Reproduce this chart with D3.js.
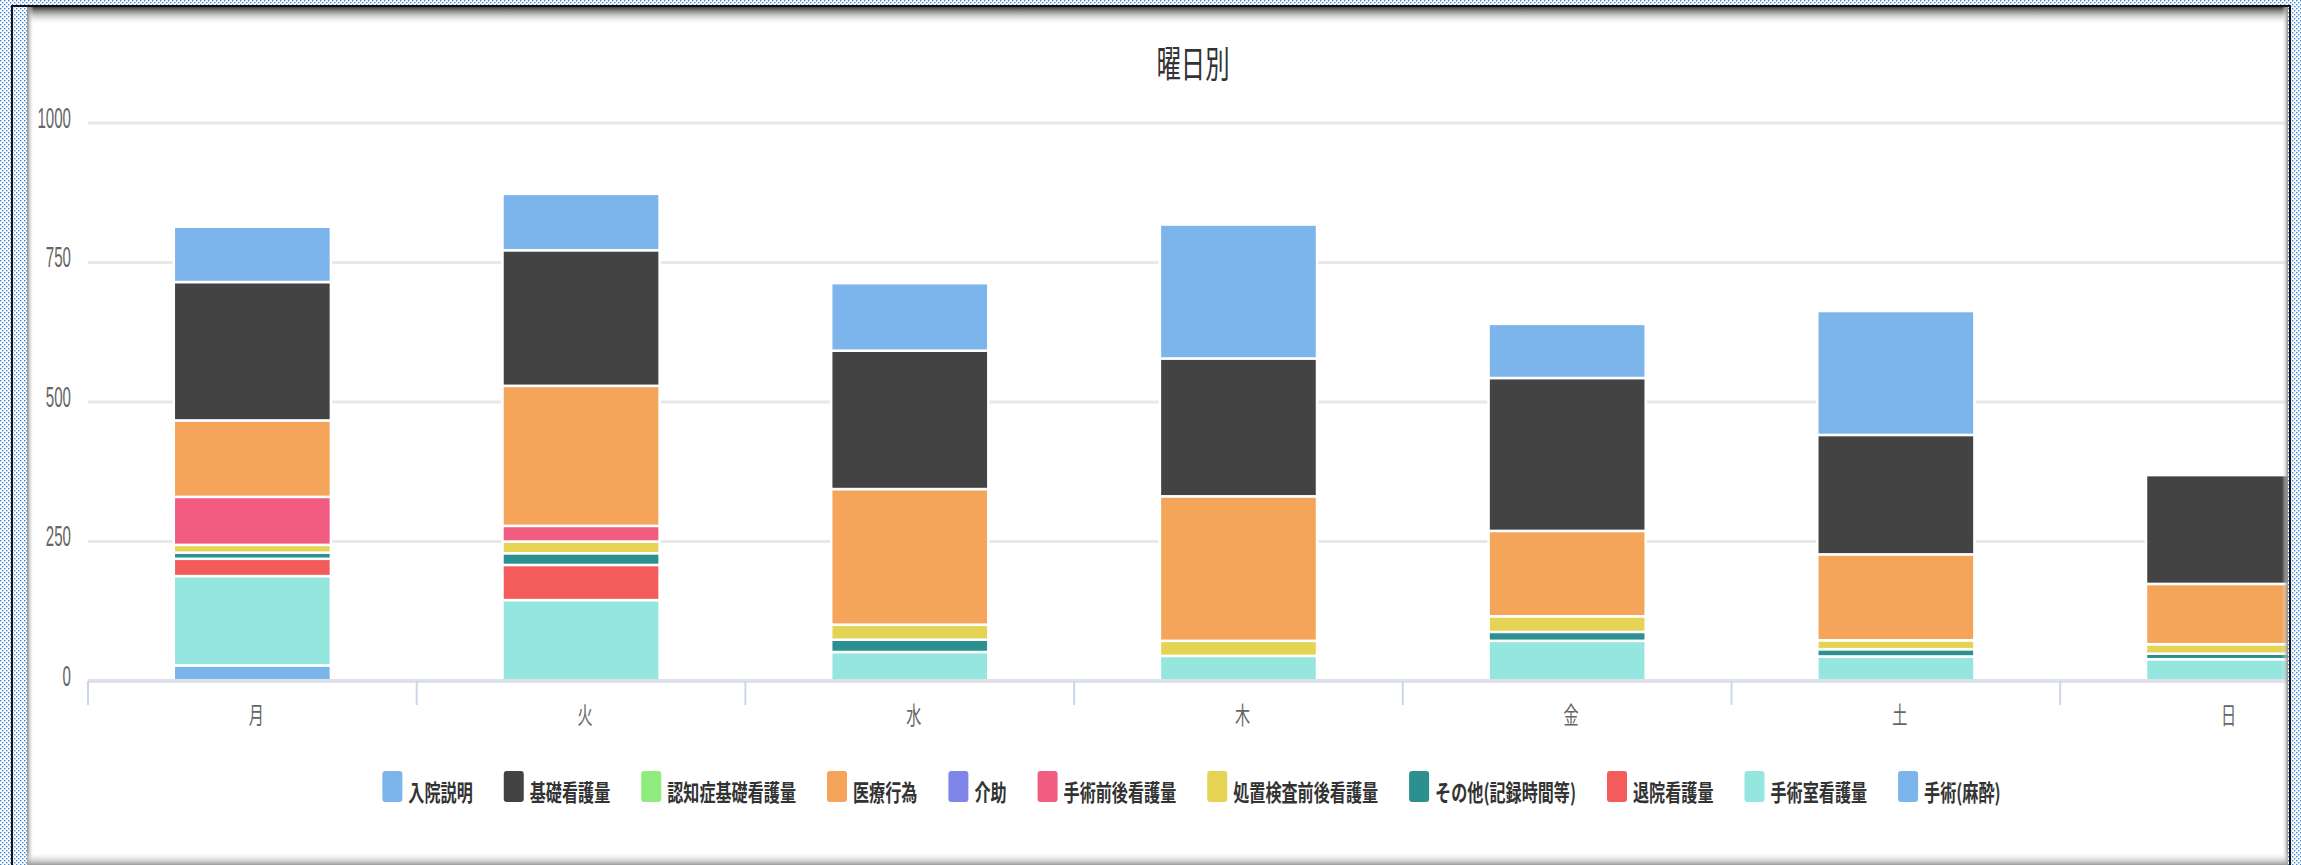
<!DOCTYPE html>
<html>
<head>
<meta charset="utf-8">
<script src="https://cdn.jsdelivr.net/npm/d3@7"></script>
<style>
html, body { margin: 0; padding: 0; background: #fff; overflow: hidden; }
svg { display: block; }
</style>
</head>
<body>
<svg id="chart" width="2301" height="865"></svg>
<script>
// ---- data -------------------------------------------------------------
const days = ["月", "火", "水", "木", "金", "土", "日"];
const seriesNames = [
  "入院説明", "基礎看護量", "認知症基礎看護量", "医療行為", "介助",
  "手術前後看護量", "処置検査前後看護量", "その他(記録時間等)",
  "退院看護量", "手術室看護量", "手術(麻酔)"
];
const seriesColors = [
  "#7cb5ec", "#434343", "#90ed7d", "#f5a55a", "#8085e9",
  "#f15c80", "#e4d354", "#2b908f", "#f45b5b", "#96e6e0", "#7cb5ec"
];
const nyuin          = [99, 101, 121, 240, 97, 222, 0];
const kiso           = [248, 243, 248, 247, 274, 214, 195];
const ninchi         = [0, 0, 0, 0, 0, 0, 0];
const iryo           = [137, 251, 243, 259, 153, 154, 108];
const kaijo          = [0, 0, 0, 0, 0, 0, 0];
const zengo          = [86, 28, 0, 0, 0, 0, 0];
const shochi         = [14, 21, 27, 27, 28, 16, 17];
const sonota         = [11, 21, 22, 0, 16, 13, 10];
const taiin          = [31, 63, 0, 0, 0, 0, 0];
const shujutsushitsu = [160, 145, 52, 45, 72, 44, 39];
const masui          = [28, 0, 0, 0, 0, 0, 0];
const yTicks = [0, 250, 500, 750, 1000];
const chartTitle = "曜日別";

const seriesValues = [nyuin, kiso, ninchi, iryo, kaijo, zengo, shochi, sonota, taiin, shujutsushitsu, masui];

// ---- layout -----------------------------------------------------------
const W = 2301, H = 865;
const panel = { x0: 27, x1: 2288, y0: 7, y1: 865 };
const plot = { left: 88, right: 88 + 7 * 328.7, top: 123, bottom: 681 };
const fontCJK = "'Noto Sans CJK JP', 'Noto Sans', sans-serif";
const fontNum = "'Liberation Sans', Arial, sans-serif";

const svg = d3.select("#chart");
const defs = svg.append("defs");

// dotted desktop pattern around the window
const pat = defs.append("pattern").attr("id", "dots")
  .attr("width", 4).attr("height", 4).attr("patternUnits", "userSpaceOnUse");
pat.append("rect").attr("width", 4).attr("height", 4).attr("fill", "#ffffff");
pat.append("rect").attr("x", 0).attr("y", 0).attr("width", 1.4).attr("height", 1.4).attr("fill", "#3f88d8");
pat.append("rect").attr("x", 2).attr("y", 2).attr("width", 1.4).attr("height", 1.4).attr("fill", "#3f88d8");

function linGrad(id, x1, y1, x2, y2, c1, o1, c2, o2) {
  const g = defs.append("linearGradient").attr("id", id)
    .attr("x1", x1).attr("y1", y1).attr("x2", x2).attr("y2", y2);
  g.append("stop").attr("offset", "0").attr("stop-color", c1).attr("stop-opacity", o1);
  g.append("stop").attr("offset", "1").attr("stop-color", c2).attr("stop-opacity", o2);
}
linGrad("shTop", 0, 0, 0, 1, "#3c3c3c", 1, "#ffffff", 0);
linGrad("shLeft", 0, 0, 1, 0, "#8a8a8a", 1, "#ffffff", 0);
linGrad("shRight", 1, 0, 0, 0, "#8a8a8a", 1, "#ffffff", 0);
linGrad("shBottom", 0, 1, 0, 0, "#9a9a9a", 1, "#ffffff", 0);

defs.append("clipPath").attr("id", "panelClip")
  .append("rect").attr("x", panel.x0).attr("y", panel.y0)
  .attr("width", panel.x1 - panel.x0).attr("height", panel.y1 - panel.y0);

svg.append("rect").attr("width", W).attr("height", H).attr("fill", "url(#dots)");
svg.append("rect").attr("x", 11).attr("y", 5).attr("width", 2).attr("height", H).attr("fill", "#111");
svg.append("rect").attr("x", 11).attr("y", 5).attr("width", 2280).attr("height", 2).attr("fill", "#111");
svg.append("rect").attr("x", 2289).attr("y", 5).attr("width", 2).attr("height", H).attr("fill", "#111");
svg.append("rect").attr("x", panel.x0).attr("y", panel.y0)
  .attr("width", panel.x1 - panel.x0).attr("height", panel.y1 - panel.y0).attr("fill", "#ffffff");

const g = svg.append("g").attr("clip-path", "url(#panelClip)");

// text squeezed horizontally
function squeezed(parent, str, x, y, size, k, opts = {}) {
  return parent.append("text")
    .attr("transform", `translate(${x},${y}) scale(${k},1)`)
    .attr("text-anchor", opts.anchor || "start")
    .attr("font-family", opts.family || fontCJK)
    .attr("font-size", size)
    .attr("font-weight", opts.weight || "normal")
    .attr("fill", opts.fill || "#333")
    .text(str);
}

// ---- scales -----------------------------------------------------------
const p = 0.522;
const x = d3.scaleBand().domain(days).range([plot.left, plot.right])
  .paddingInner(p).paddingOuter(p / 2);
const y = d3.scaleLinear().domain([0, 1000]).range([plot.bottom, plot.top]);

// gridlines
g.append("g").selectAll("line").data(yTicks).join("line")
  .attr("x1", plot.left).attr("x2", plot.right)
  .attr("y1", d => y(d)).attr("y2", d => y(d))
  .attr("stroke", "#e8e8e8").attr("stroke-width", 3);

// y labels
yTicks.forEach(v => {
  squeezed(g, String(v), 71, y(v) + 4.5, 29, 0.52, { anchor: "end", family: fontNum, fill: "#666" });
});

// stacked bars
const keys = d3.range(seriesNames.length);
const table = days.map((d, i) => {
  const row = { day: d };
  keys.forEach(k => row[k] = seriesValues[k][i]);
  return row;
});
const stack = d3.stack().keys(keys.slice().reverse());
const layers = stack(table);

g.append("g").selectAll("g").data(layers).join("g")
  .attr("fill", L => seriesColors[L.key])
  .selectAll("rect").data(L => L.filter(s => s[1] - s[0] > 0)).join("rect")
  .attr("x", s => x(s.data.day))
  .attr("width", x.bandwidth())
  .attr("y", s => y(s[1]))
  .attr("height", s => y(s[0]) - y(s[1]))
  .attr("stroke", "#ffffff").attr("stroke-width", 2.5);

// x axis
const xAxis = g.append("g");
xAxis.append("line").attr("x1", plot.left).attr("x2", plot.right)
  .attr("y1", plot.bottom).attr("y2", plot.bottom)
  .attr("stroke", "#dde2ea").attr("stroke-width", 4);
const edges = d3.range(days.length + 1).map(i => plot.left + i * x.step());
xAxis.selectAll("line.tick").data(edges).join("line").attr("class", "tick")
  .attr("x1", d => d).attr("x2", d => d)
  .attr("y1", plot.bottom).attr("y2", plot.bottom + 24)
  .attr("stroke", "#ccd6eb").attr("stroke-width", 2);
days.forEach(d => {
  squeezed(xAxis, d, x(d) + x.bandwidth() / 2 + 4, 724, 24, 0.63, { anchor: "middle", fill: "#666" });
});

// title
squeezed(g, chartTitle, 1193, 78, 37, 0.66, { anchor: "middle", fill: "#333" });

// legend
const legend = g.append("g");
const kL = 0.70, fsL = 23;
let cx = 0;
seriesNames.forEach((name, i) => {
  const it = legend.append("g");
  it.append("rect").attr("x", 0).attr("y", 771).attr("width", 20).attr("height", 31)
    .attr("rx", 3).attr("fill", seriesColors[i]);
  const t = squeezed(it, name, 26, 801, fsL, kL, { weight: "bold", fill: "#333" });
  const w = t.node().getComputedTextLength() * kL;
  it.attr("transform", `translate(${cx},0)`);
  cx += 26 + w + 31;
});
const totalW = cx - 31;
legend.attr("transform", `translate(${1191.5 - totalW / 2},0)`);

// window inner shadows
svg.append("rect").attr("x", panel.x0).attr("y", panel.y0).attr("width", panel.x1 - panel.x0).attr("height", 18).attr("fill", "url(#shTop)");
svg.append("rect").attr("x", panel.x0).attr("y", panel.y0).attr("width", 7).attr("height", H).attr("fill", "url(#shLeft)");
svg.append("rect").attr("x", panel.x1 - 6).attr("y", panel.y0).attr("width", 6).attr("height", H).attr("fill", "url(#shRight)");
svg.append("rect").attr("x", panel.x0).attr("y", H - 13).attr("width", panel.x1 - panel.x0).attr("height", 13).attr("fill", "url(#shBottom)");
</script>
</body>
</html>
